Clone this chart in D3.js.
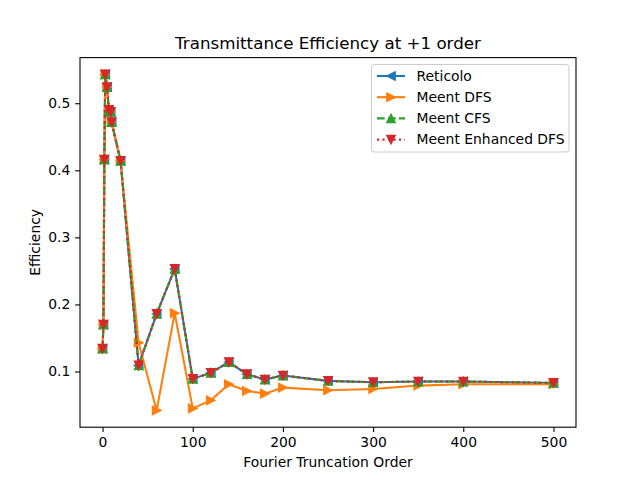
<!DOCTYPE html>
<html>
<head>
<meta charset="utf-8">
<script src="https://cdn.jsdelivr.net/npm/d3@7"></script>
<style>
  body { margin: 0; background: #fff; }
  svg { display: block; font-family: "DejaVu Sans", sans-serif; }
</style>
</head>
<body>
<svg id="chart" width="640" height="480"></svg>
<script>
(function () {
  'use strict';

  // fourier truncation orders
  const orders = [0, 1, 2, 3, 5, 7, 9, 10, 20, 40, 60, 80, 100, 120, 140, 160, 180, 200, 250, 300, 350, 400, 500];

  const reticolo = [0.134, 0.170, 0.416, 0.543, 0.524, 0.490, 0.487, 0.472, 0.414, 0.109, 0.186, 0.253, 0.089, 0.098, 0.114, 0.096, 0.088, 0.094, 0.086, 0.084, 0.085, 0.085, 0.083];
  const meentDFS = [0.134, 0.170, 0.416, 0.543, 0.524, 0.490, 0.487, 0.472, 0.414, 0.143, 0.042, 0.187, 0.045, 0.057, 0.081, 0.071, 0.067, 0.076, 0.072, 0.074, 0.079, 0.081, 0.081];
  const meentCFS = [0.134, 0.170, 0.416, 0.543, 0.524, 0.490, 0.487, 0.472, 0.414, 0.109, 0.186, 0.253, 0.089, 0.098, 0.114, 0.096, 0.088, 0.094, 0.086, 0.084, 0.085, 0.085, 0.083];
  const meentEnhanced = [0.134, 0.170, 0.416, 0.543, 0.524, 0.490, 0.487, 0.472, 0.414, 0.109, 0.186, 0.253, 0.089, 0.098, 0.114, 0.096, 0.088, 0.094, 0.086, 0.084, 0.085, 0.085, 0.083];

  const xTicks = [0, 100, 200, 300, 400, 500];
  const yTicks = [0.1, 0.2, 0.3, 0.4, 0.5];

  const series = [
    { name: 'Reticolo', values: reticolo, color: '#1f77b4', dash: null, marker: 'left' },
    { name: 'Meent DFS', values: meentDFS, color: '#ff7f0e', dash: null, marker: 'right' },
    { name: 'Meent CFS', values: meentCFS, color: '#2ca02c', dash: '7.7,3.3', marker: 'up' },
    { name: 'Meent Enhanced DFS', values: meentEnhanced, color: '#d62728', dash: '2.1,3.4', marker: 'down' }
  ];

  const W = 640, H = 480;
  const m = { left: 80, right: 576, top: 57.6, bottom: 427.2 };

  const svg = d3.select('#chart');

  // padded domains like matplotlib's 5% margins
  const xExt = d3.extent(orders);
  const xPad = (xExt[1] - xExt[0]) * 0.05;
  const allY = [].concat(reticolo, meentDFS, meentCFS, meentEnhanced);
  const yExt = d3.extent(allY);
  const yPad = (yExt[1] - yExt[0]) * 0.05;

  const x = d3.scaleLinear().domain([xExt[0] - xPad, xExt[1] + xPad]).range([m.left, m.right]);
  const y = d3.scaleLinear().domain([yExt[0] - yPad, yExt[1] + yPad]).range([m.bottom, m.top]);

  const h = 4.17;
  function markerPath(kind) {
    if (kind === 'up') return `M0,${-h}L${-h},${h}L${h},${h}Z`;
    if (kind === 'down') return `M0,${h}L${-h},${-h}L${h},${-h}Z`;
    if (kind === 'left') return `M${-h},0L${h},${-h}L${h},${h}Z`;
    return `M${h},0L${-h},${-h}L${-h},${h}Z`;
  }

  svg.append('defs').append('clipPath').attr('id', 'clip')
    .append('rect')
    .attr('x', m.left).attr('y', m.top)
    .attr('width', m.right - m.left).attr('height', m.bottom - m.top);

  const plot = svg.append('g');

  const line = d3.line()
    .x((d) => x(d[0]))
    .y((d) => y(d[1]));

  series.forEach((s) => {
    const pts = orders.map((o, i) => [o, s.values[i]]);
    plot.append('path')
      .datum(pts)
      .attr('d', line)
      .attr('fill', 'none')
      .attr('stroke', s.color)
      .attr('stroke-width', 2.08)
      .attr('stroke-linejoin', 'round')
      .attr('stroke-linecap', s.dash ? 'butt' : 'square')
      .attr('stroke-dasharray', s.dash);

    plot.selectAll(null)
      .data(pts)
      .enter()
      .append('path')
      .attr('d', markerPath(s.marker))
      .attr('transform', (d) => `translate(${x(d[0])},${y(d[1])})`)
      .attr('fill', s.color)
      .attr('stroke', s.color)
      .attr('stroke-width', 1.39)
      .attr('stroke-linejoin', 'miter');
  });

  // axes
  const xAxis = d3.axisBottom(x).tickValues(xTicks).tickSize(4.86).tickPadding(4.86).tickFormat(d3.format('d'));
  const yAxis = d3.axisLeft(y).tickValues(yTicks).tickSize(4.86).tickPadding(4.86).tickFormat(d3.format('.1f'));

  const gx = svg.append('g').attr('transform', `translate(0,${m.bottom})`).call(xAxis);
  const gy = svg.append('g').attr('transform', `translate(${m.left},0)`).call(yAxis);
  [gx, gy].forEach((g) => {
    g.select('.domain').remove();
    g.selectAll('.tick line').attr('stroke', '#000').attr('stroke-width', 1.1);
    g.selectAll('.tick text').attr('fill', '#000').style('font-size', '13.9px').style('font-family', '"DejaVu Sans", sans-serif');
  });

  svg.append('rect')
    .attr('x', m.left).attr('y', m.top)
    .attr('width', m.right - m.left).attr('height', m.bottom - m.top)
    .attr('fill', 'none').attr('stroke', '#000').attr('stroke-width', 1.1);

  // labels
  svg.append('text')
    .attr('x', (m.left + m.right) / 2).attr('y', 49)
    .attr('text-anchor', 'middle')
    .style('font-size', '16.7px')
    .text('Transmittance Efficiency at +1 order');

  svg.append('text')
    .attr('x', (m.left + m.right) / 2).attr('y', 467)
    .attr('text-anchor', 'middle')
    .style('font-size', '13.9px')
    .text('Fourier Truncation Order');

  svg.append('text')
    .attr('transform', `translate(40,${(m.top + m.bottom) / 2}) rotate(-90)`)
    .attr('text-anchor', 'middle')
    .style('font-size', '13.9px')
    .text('Efficiency');

  // legend
  const lg = svg.append('g');
  lg.append('rect')
    .attr('x', 371.5).attr('y', 64.5)
    .attr('width', 197.5).attr('height', 87.5)
    .attr('rx', 2.8)
    .attr('fill', '#fff').attr('fill-opacity', 0.8)
    .attr('stroke', '#cccccc').attr('stroke-width', 1);

  series.forEach((s, i) => {
    const ly = 76 + i * 21.2;
    lg.append('line')
      .attr('x1', 377).attr('x2', 405)
      .attr('y1', ly).attr('y2', ly)
      .attr('stroke', s.color)
      .attr('stroke-width', 2.08)
      .attr('stroke-dasharray', s.dash);
    lg.append('path')
      .attr('d', markerPath(s.marker))
      .attr('transform', `translate(391,${ly})`)
      .attr('fill', s.color)
      .attr('stroke', s.color)
      .attr('stroke-width', 1.39);
    lg.append('text')
      .attr('x', 416.5).attr('y', ly)
      .attr('dy', '0.35em')
      .style('font-size', '13.9px')
      .text(s.name);
  });
}());
</script>
</body>
</html>
